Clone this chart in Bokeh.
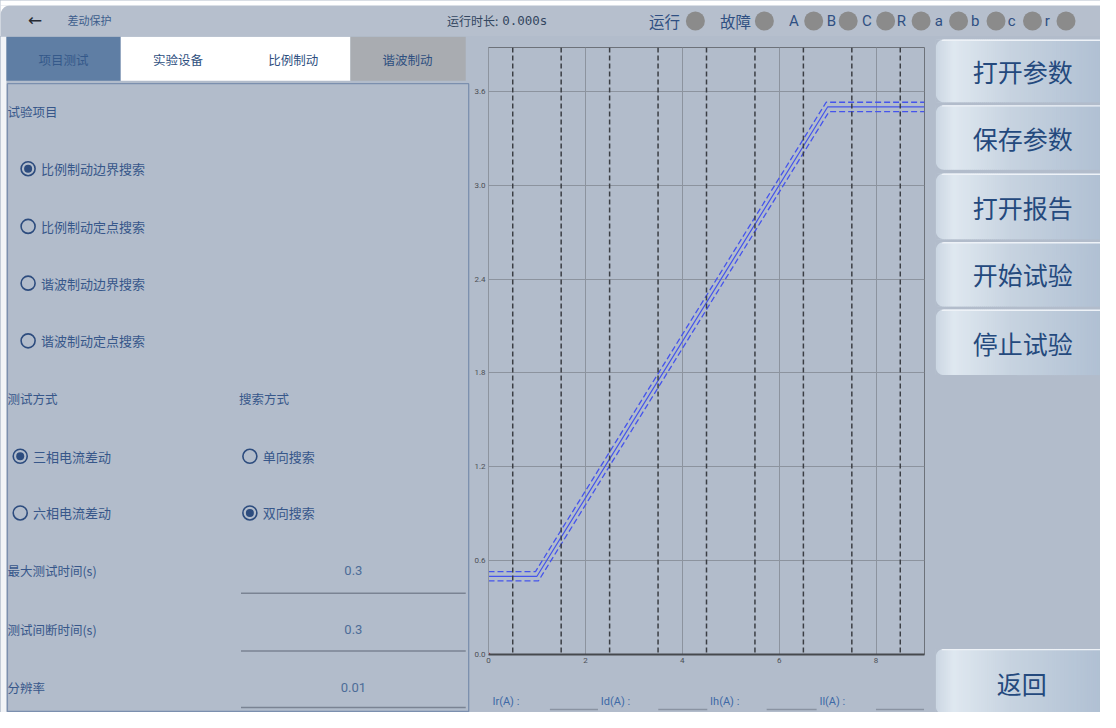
import numpy as np
from bokeh.plotting import figure
from bokeh.layouts import column, row
from bokeh.models import Range1d, FixedTicker, PrintfTickFormatter, Span
from bokeh.core.properties import value
from bokeh.embed import file_html
from bokeh.resources import INLINE

# ---------------- chart data ----------------
ir_axis = [0, 1, 7, 9]
id_set = [0.5, 0.5, 3.5, 3.5]
ir_upper = [0, 0.97, 6.97, 9]
id_upper = [0.53, 0.53, 3.53, 3.53]
ir_lower = [0, 1.03, 7.03, 9]
id_lower = [0.47, 0.47, 3.47, 3.47]
x_ticks = [0, 2, 4, 6, 8]
y_ticks = [0.0, 0.6, 1.2, 1.8, 2.4, 3.0, 3.6]
dash_x = [0.5, 1.5, 2.5, 3.5, 4.5, 5.5, 6.5, 7.5, 8.5]
x_max = 9
y_max = 3.88
readouts = ["Ir(A) :", "Id(A) :", "Ih(A) :", "Il(A) :"]

# ---------------- UI texts ----------------
title = "差动保护"
run_time_label = "运行时长: "
run_time_value = "0.000s"
status_labels = ["运行", "故障"]
phase_labels = ["A", "B", "C", "R", "a", "b", "c", "r"]
tabs = ["项目测试", "实验设备", "比例制动", "谐波制动"]
test_items = ["比例制动边界搜索", "比例制动定点搜索", "谐波制动边界搜索", "谐波制动定点搜索"]
test_item_checked = [True, False, False, False]
test_modes = ["三相电流差动", "六相电流差动"]
test_mode_checked = [True, False]
search_modes = ["单向搜索", "双向搜索"]
search_checked = [False, True]
section_titles = ["试验项目", "测试方式", "搜索方式"]
param_names = ["最大测试时间(s)", "测试间断时间(s)", "分辨率"]
param_values = ["0.3", "0.3", "0.01"]
buttons = ["打开参数", "保存参数", "打开报告", "开始试验", "停止试验"]
back_button = "返回"

# ---------------- style / layout ----------------
BG = "#b2bccb"
TITLE_BG = "#b6bfcd"
TXT = "#37578a"
CJK = value("Noto Sans CJK SC")
LAT = value("Roboto")

SX = 1116 / 1100.0   # reference px per output px
SY = 728 / 712.0
W_LEFT, W_CHART, W_RIGHT = 471, 456, 173
H_TOP, H_BODY, H_READ = 36, 676, 27
XL = W_LEFT * SX
XC = (W_LEFT + W_CHART) * SX
YT = H_TOP * SY
YR = (H_TOP + H_BODY - H_READ) * SY


def ui_fig(w, h, xr, yr, bg):
    f = figure(width=w, height=h, x_range=Range1d(*xr), y_range=Range1d(*yr),
               toolbar_location=None, output_backend="svg", min_border=0,
               x_axis_location=None, y_axis_location=None)
    f.background_fill_color = bg
    f.border_fill_color = bg
    f.outline_line_color = None
    f.grid.grid_line_color = None
    return f


# ---------------- top bar ----------------
top = ui_fig(1100, H_TOP, (0, 1116), (YT, 0), "#ffffff")
top.quad(left=[0], right=[1116], top=[5], bottom=[YT + 1], fill_color=TITLE_BG, line_color=None)
rc_ = 10
a = np.radians(np.linspace(90, 180, 14))
top.patch([0] + list(rc_ + rc_ * np.cos(a)), [5] + list(5 + rc_ - rc_ * np.sin(a)),
          fill_color="#ffffff", line_color=None)
top.text(x=[35], y=[20], text=["←"], text_font=value("DejaVu Sans"), text_font_size="17px",
         text_color="#262a33", text_align="center", text_baseline="middle")
top.text(x=[68], y=[20], text=[title], text_font=CJK, text_font_size="11px",
         text_color="#3d5d8c", text_baseline="middle")
top.text(x=[453], y=[20], text=[run_time_label], text_font=CJK, text_font_size="12px",
         text_color="#33465f", text_baseline="middle")
top.text(x=[509], y=[20], text=[run_time_value], text_font=value("DejaVu Sans Mono"),
         text_font_size="12.5px", text_color="#33465f", text_baseline="middle")
stat_x = [658, 730]
stat_c = [705, 775]
top.text(x=stat_x, y=[21] * 2, text=status_labels, text_font=CJK, text_font_size="15.5px",
         text_color="#2f4f82", text_baseline="middle")
ph_x = [805, 843, 879, 914, 952, 989, 1026, 1062]
ph_c = [825, 860, 898, 934, 972, 1010, 1047, 1081]
top.text(x=ph_x, y=[21] * 8, text=phase_labels, text_font=LAT, text_font_size="15px",
         text_color="#2f4f82", text_align="center", text_baseline="middle")
top.scatter(x=stat_c + ph_c, y=[21] * 10, size=19, fill_color="#8b8b8b", line_color=None)

# ---------------- left panel ----------------
left = ui_fig(W_LEFT, H_BODY, (0, XL), (728, YT), BG)
left.quad(left=[0], right=[6], top=[YT], bottom=[728], fill_color="#f2f4f7", line_color=None)
# tabs
left.quad(left=[6, 122, 355], right=[122, 355, 472], top=[37] * 3, bottom=[82] * 3,
          fill_color=["#5f7ea4", "#ffffff", "#a9acb1"], line_color=None)
left.text(x=[64, 180, 297, 413], y=[60] * 4, text=tabs, text_font=CJK, text_font_size="12.5px",
          text_color=["#35598a", "#2e4f80", "#2e4f80", "#2e4f80"],
          text_align="center", text_baseline="middle")
# panel box
left.quad(left=[7], right=[475], top=[85], bottom=[727], fill_color=None,
          line_color="#7b8fae", line_width=1.3)
# section titles
left.text(x=[7, 7, 242], y=[114, 407, 407], text=section_titles, text_font=CJK,
          text_font_size="12.5px", text_color=TXT, text_baseline="middle")
# radios
rx = [28, 28, 28, 28, 20, 20, 253, 253]
ry = [172, 231, 289, 348, 466, 524, 466, 524]
rt = test_items + test_modes + search_modes
rc = test_item_checked + test_mode_checked + search_checked
left.scatter(x=rx, y=ry, size=14, fill_color=None, line_color="#2d4c7e", line_width=1.6)
left.scatter(x=[p for p, c in zip(rx, rc) if c], y=[q for q, c in zip(ry, rc) if c],
             size=8, fill_color="#2d4c7e", line_color=None)
left.text(x=[p + 13 for p in rx], y=ry, text=rt, text_font=CJK, text_font_size="13px",
          text_color=TXT, text_baseline="middle")
# params
py = [583, 643, 702]
left.text(x=[7] * 3, y=py, text=param_names, text_font=CJK, text_font_size="12.5px",
          text_color=TXT, text_baseline="middle")
left.text(x=[358] * 3, y=py, text=param_values, text_font=LAT, text_font_size="13px",
          text_color="#4d6c98", text_align="center", text_baseline="middle")
left.segment(x0=[244] * 3, x1=[472] * 3, y0=[606, 665, 723], y1=[606, 665, 723],
             line_color="#7a8393", line_width=1.5)

# ---------------- chart ----------------
ch = figure(width=W_CHART, height=H_BODY - H_READ, x_range=Range1d(0, x_max),
            y_range=Range1d(0, y_max), toolbar_location=None, output_backend="svg",
            min_border_left=17, min_border_right=3, min_border_top=11, min_border_bottom=31)
ch.background_fill_color = BG
ch.border_fill_color = BG
ch.outline_line_color = "#6d727a"
ch.xaxis.ticker = FixedTicker(ticks=x_ticks)
ch.yaxis.ticker = FixedTicker(ticks=y_ticks)
ch.xaxis.formatter = PrintfTickFormatter(format="%d")
ch.yaxis.formatter = PrintfTickFormatter(format="%.1f")
for ax in (ch.xaxis, ch.yaxis):
    ax.major_tick_out = 0
    ax.major_tick_in = 0
    ax.minor_tick_out = 0
    ax.minor_tick_in = 0
    ax.major_label_text_font_size = "8px"
    ax.major_label_text_color = "#4c4f55"
    ax.major_label_text_font = "Roboto"
    ax.major_label_standoff = 3
ch.xaxis.axis_line_color = "#46494e"
ch.xaxis.axis_line_width = 2
ch.yaxis.axis_line_color = "#8d949f"
ch.grid.grid_line_color = "#8c939e"
ch.grid.grid_line_width = 1
for xv in dash_x:
    ch.add_layout(Span(location=xv, dimension="height", line_color="#3b3e44",
                       line_dash="5 3", line_width=1.5))
ch.line(ir_axis, id_set, line_color="#4554ec", line_width=1.2)
ch.line(ir_upper, id_upper, line_color="#4554ec", line_width=1.3, line_dash="6 3")
ch.line(ir_lower, id_lower, line_color="#4554ec", line_width=1.3, line_dash="6 3")
ch.scatter([0], [0], size=3, color="#e02020")

# readout row under the chart
rd = ui_fig(W_CHART, H_READ, (XL, XC), (728, YR), BG)
rd.segment(x0=[475], x1=[475], y0=[YR - 2], y1=[728], line_color="#7b8fae", line_width=1.3)
rd.text(x=[482, 597, 713, 829], y=[717] * 4, text=readouts, text_font=LAT, text_font_size="11px",
        text_color="#3d69a6", text_baseline="middle")
rd.segment(x0=[543, 658, 773, 889], x1=[594, 710, 826, 940], y0=[725] * 4, y1=[725] * 4,
           line_color="#8a93a2", line_width=1.5)

# ---------------- right buttons ----------------
right = ui_fig(W_RIGHT, H_BODY, (XC, 1116), (728, YT), BG)
btn_spans = [(40, 104), (107, 173), (177, 244), (247, 313), (316, 383)]
back_span = (663, 730)
stops_t = [0.0, 0.1, 0.45, 1.0]
stops_c = np.array([[204, 215, 227], [223, 232, 240], [199, 211, 224], [176, 192, 211]])
sx = np.arange(949, 1116, 2.0)
tt = (sx - 949) / (1116 - 949)
cols = []
for t in tt:
    rgb = [np.interp(t, stops_t, stops_c[:, k]) for k in range(3)]
    cols.append("#%02x%02x%02x" % tuple(int(round(v)) for v in rgb))
L, R, T, B, C = [], [], [], [], []
for (t0, b0) in btn_spans + [back_span]:
    L += list(sx); R += list(sx + 2.8); T += [t0] * len(sx); B += [b0] * len(sx); C += cols
right.quad(left=L, right=R, top=T, bottom=B, fill_color=C, line_color=None)
allspans = btn_spans + [back_span]
right.segment(x0=[955] * 6, x1=[1116] * 6, y0=[s[0] + 0.7 for s in allspans],
              y1=[s[0] + 0.7 for s in allspans], line_color="#eef2f7", line_width=1.4)
r = 8
xs_m, ys_m = [], []
for (t0, b0) in allspans:
    cx, cy = 949 + r, t0 + r
    a = np.radians(np.linspace(90, 180, 12))
    xs_m.append([948.5] + list(cx + r * np.cos(a)))
    ys_m.append([t0 - 0.5] + list(cy - r * np.sin(a)))
    cx, cy = 949 + r, b0 - r
    a = np.radians(np.linspace(180, 270, 12))
    xs_m.append([948.5] + list(cx + r * np.cos(a)))
    ys_m.append([b0 + 0.5] + list(cy - r * np.sin(a)))
right.patches(xs_m, ys_m, fill_color=BG, line_color=None)
right.text(x=[1037] * 5, y=[72, 141, 211, 280, 350], text=buttons, text_font=CJK,
           text_font_size="25px", text_color="#24497d", text_align="center", text_baseline="middle")
right.text(x=[1036], y=[698], text=[back_button], text_font=CJK,
           text_font_size="25px", text_color="#24497d", text_align="center", text_baseline="middle")

bgstyle = {"background-color": BG}
mid = column(ch, rd, spacing=0, styles=bgstyle)
body = row(left, mid, right, spacing=0, styles=bgstyle)
layout = column(top, body, spacing=0, styles=bgstyle)
open("out.html", "w").write(file_html(layout, INLINE))
